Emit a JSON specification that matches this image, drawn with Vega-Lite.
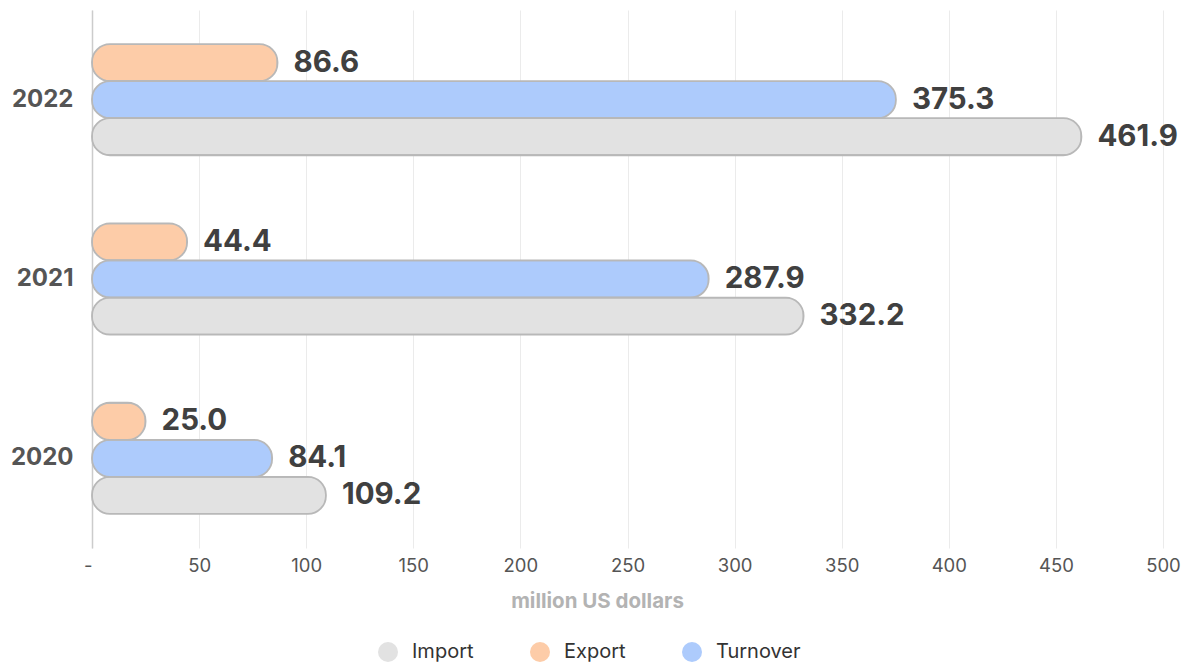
{
  "$schema": "https://vega.github.io/schema/vega-lite/v6.json",
  "width": 1071,
  "height": 538,
  "autosize": {"type": "none"},
  "padding": {"left": 92, "top": 10, "right": 25, "bottom": 115},
  "background": "white",
  "config": {"font": "Inter", "view": {"stroke": null}},
  "data": {
    "values": [
      {"year": "2022", "type": "Export", "value": 86.6},
      {"year": "2022", "type": "Turnover", "value": 375.3},
      {"year": "2022", "type": "Import", "value": 461.9},
      {"year": "2021", "type": "Export", "value": 44.4},
      {"year": "2021", "type": "Turnover", "value": 287.9},
      {"year": "2021", "type": "Import", "value": 332.2},
      {"year": "2020", "type": "Export", "value": 25.0},
      {"year": "2020", "type": "Turnover", "value": 84.1},
      {"year": "2020", "type": "Import", "value": 109.2}
    ]
  },
  "encoding": {
    "y": {
      "field": "year",
      "type": "nominal",
      "sort": ["2022", "2021", "2020"],
      "scale": {"paddingInner": 0.38, "paddingOuter": 0.19},
      "axis": {
        "title": null,
        "ticks": false,
        "domainColor": "#cccccc",
        "domainWidth": 1.5,
        "labelFont": "Inter",
        "labelFontSize": 24,
        "labelFontWeight": "bold",
        "labelColor": "#555555",
        "labelPadding": 19
      }
    },
    "yOffset": {
      "field": "type",
      "type": "nominal",
      "sort": ["Export", "Turnover", "Import"],
      "scale": {"paddingInner": 0, "paddingOuter": 0}
    },
    "x": {
      "field": "value",
      "type": "quantitative",
      "scale": {"domain": [0, 500], "nice": false},
      "axis": {
        "values": [0, 50, 100, 150, 200, 250, 300, 350, 400, 450, 500],
        "labelExpr": "datum.value == 0 ? '-' : datum.label",
        "labelAlign": {"condition": {"test": "datum.value == 0", "value": "right"}, "value": "center"},
        "domain": false,
        "ticks": false,
        "gridColor": "#ebebeb",
        "gridWidth": 1,
        "labelFont": "Inter",
        "labelFontSize": 18.5,
        "labelColor": "#555555",
        "labelPadding": 8,
        "title": "million US dollars",
        "titleFont": "Inter",
        "titleFontSize": 20.5,
        "titleFontWeight": "bold",
        "titleColor": "#b3b3b3",
        "titlePadding": 17,
        "titleX": 505,
        "titleAnchor": "middle"
      }
    }
  },
  "layer": [
    {
      "mark": {"type": "bar", "cornerRadius": 18, "stroke": "#b8b8b8", "strokeWidth": 1.8},
      "encoding": {
        "color": {
          "field": "type",
          "type": "nominal",
          "scale": {"domain": ["Import", "Export", "Turnover"], "range": ["#e2e2e2", "#fdcca8", "#adcbfc"]},
          "legend": {
            "title": null,
            "orient": "none",
            "direction": "horizontal",
            "legendX": 286,
            "legendY": 632,
            "symbolType": "circle",
            "symbolSize": 400,
            "symbolStrokeWidth": 0,
            "symbolOpacity": 1,
            "labelFont": "Inter",
            "labelFontSize": 20,
            "labelColor": "#333333",
            "labelOffset": 14,
            "columnPadding": 56
          }
        }
      }
    },
    {
      "mark": {"type": "text", "align": "left", "baseline": "middle", "dx": 16, "font": "Inter", "fontSize": 29.5, "fontWeight": "bold", "color": "#404040"},
      "encoding": {
        "text": {"field": "value", "type": "quantitative", "format": ".1f"}
      }
    }
  ]
}
